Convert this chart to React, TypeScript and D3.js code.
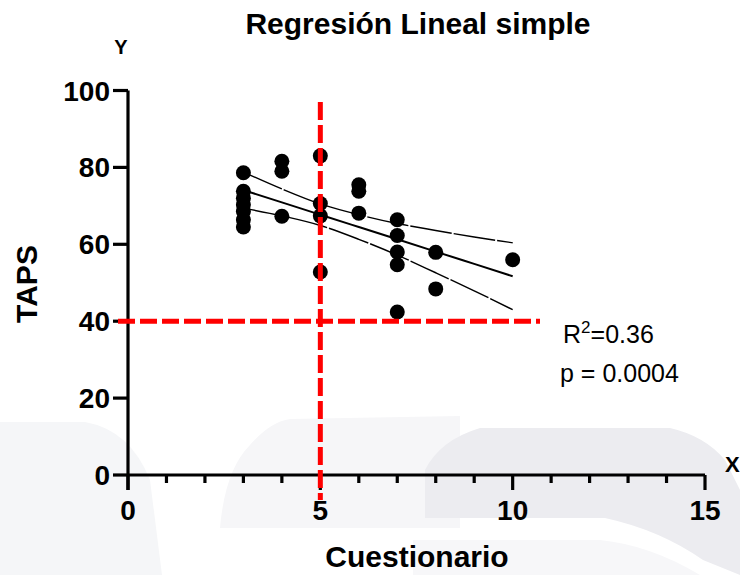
import React from "react";
import { scaleLinear, line, curveMonotoneX, range } from "d3";

// puntos observados (Cuestionario, TAPS)
const cuestionario = [3, 3, 3, 3, 3, 3, 3, 4, 4, 4, 5, 5, 5, 5, 6, 6, 6, 7, 7, 7, 7, 7, 8, 8, 10];
const taps = [78.6, 73.8, 72, 70.3, 68.5, 66.4, 64.5, 81.6, 79, 67.3, 83, 70.6, 67.4, 52.8, 75.5, 73.8, 68.1, 66.4, 62.3, 58, 54.7, 42.4, 57.9, 48.4, 56];

// recta de regresion y banda de confianza
const fitX = [3, 4, 5, 6, 7, 8, 9, 10];
const fitY = [74.1, 70.9, 67.7, 64.5, 61.3, 58.1, 54.9, 51.7];
const upperY = [78.8, 74.4, 70.5, 67.7, 65.4, 63.6, 61.9, 60.4];
const lowerY = [69.4, 67.4, 64.9, 61.3, 57.2, 52.6, 47.9, 43.0];

const yTicks = [0, 20, 40, 60, 80, 100];
const xMajor = [0, 5, 10, 15];
const corteX = 5;
const corteY = 40;

const FONT = "'Liberation Sans', Arial, sans-serif";

export default function App() {
  const width = 740;
  const height = 575;

  const x = scaleLinear().domain([0, 15]).range([128, 705]);
  const y = scaleLinear().domain([0, 100]).range([475, 90.5]);

  const pts = cuestionario.map((c, i) => ({ c, t: taps[i] }));

  const mkLine = (vals: number[]) =>
    line<number>()
      .x((_, i) => x(fitX[i]))
      .y((d) => y(d))
      .curve(curveMonotoneX)(vals) || "";

  const y0 = y(0);
  const axisW = 3.2;

  return (
    <svg
      width={width}
      height={height}
      style={{ position: "absolute", left: 0, top: 0, background: "#fff" }}
    >
      {/* marca de agua de fondo */}
      <g>
        <path d="M0,422 L85,422 Q130,430 150,480 L162,575 L0,575 Z" fill="#f5f6f8" />
        <path d="M220,528 Q225,470 250,445 Q270,422 290,419 L460,416 L460,528 Z" fill="#f6f6f8" />
        <path d="M425,518 L425,470 Q440,440 480,428 L670,428 Q705,436 725,460 L740,490 L740,575 L703,560 Q660,530 605,518 Z" fill="#ececf0" />
        <path d="M413,540 L600,540 Q650,545 700,575 L413,575 Z" fill="#f7f7f9" />
      </g>

      {/* titulo */}
      <text x={418} y={34} textAnchor="middle" fontFamily={FONT} fontWeight="bold" fontSize={30}>
        Regresión Lineal simple
      </text>
      <text x={121} y={54} textAnchor="middle" fontFamily={FONT} fontWeight="bold" fontSize={20}>
        Y
      </text>
      <text x={725} y={472} fontFamily={FONT} fontWeight="bold" fontSize={22}>
        X
      </text>

      {/* eje Y */}
      <line x1={x(0)} x2={x(0)} y1={y(100)} y2={y0 + 15} stroke="#000" strokeWidth={axisW} />
      {yTicks.map((t) => (
        <g key={t}>
          <line x1={x(0) - 15} x2={x(0)} y1={y(t)} y2={y(t)} stroke="#000" strokeWidth={axisW} />
          <text
            x={110}
            y={y(t)}
            dy="0.36em"
            textAnchor="end"
            fontFamily={FONT}
            fontWeight="bold"
            fontSize={28}
          >
            {t}
          </text>
        </g>
      ))}

      {/* eje X */}
      <line x1={x(0)} x2={x(15)} y1={y0} y2={y0} stroke="#000" strokeWidth={axisW} />
      {range(1, 15).filter((v) => v % 5 !== 0).map((v) => (
        <line key={v} x1={x(v)} x2={x(v)} y1={y0} y2={y0 + 8} stroke="#000" strokeWidth={axisW} />
      ))}
      {xMajor.map((v) => (
        <g key={v}>
          <line x1={x(v)} x2={x(v)} y1={y0} y2={y0 + 15} stroke="#000" strokeWidth={axisW} />
          <text x={x(v)} y={520} textAnchor="middle" fontFamily={FONT} fontWeight="bold" fontSize={28}>
            {v}
          </text>
        </g>
      ))}

      {/* titulos de ejes */}
      <text
        transform="translate(37,284) rotate(-90)"
        textAnchor="middle"
        fontFamily={FONT}
        fontWeight="bold"
        fontSize={30}
      >
        TAPS
      </text>
      <text x={417} y={567} textAnchor="middle" fontFamily={FONT} fontWeight="bold" fontSize={30}>
        Cuestionario
      </text>

      {/* regresion y banda */}
      <path d={mkLine(upperY)} fill="none" stroke="#000" strokeWidth={1.4} strokeDasharray="42 2" />
      <path d={mkLine(lowerY)} fill="none" stroke="#000" strokeWidth={1.4} strokeDasharray="42 2" />
      <path d={mkLine(fitY)} fill="none" stroke="#000" strokeWidth={2} />

      {/* puntos */}
      {pts.map((p, i) => (
        <circle key={i} cx={x(p.c)} cy={y(p.t)} r={7.5} fill="#000" />
      ))}

      {/* lineas de corte */}
      <line
        x1={118}
        x2={540}
        y1={y(corteY)}
        y2={y(corteY)}
        stroke="#ff0000"
        strokeWidth={5}
        strokeDasharray="17 5"
      />
      <line
        x1={x(corteX)}
        x2={x(corteX)}
        y1={102}
        y2={500}
        stroke="#ff0000"
        strokeWidth={5}
        strokeDasharray="18 5"
      />

      {/* estadisticos */}
      <text x={563} y={343} fontFamily={FONT} fontSize={25}>
        R<tspan fontSize={17} dy={-10}>2</tspan>
        <tspan dy={10}>=0.36</tspan>
      </text>
      <text x={560} y={382} fontFamily={FONT} fontSize={25}>
        p = 0.0004
      </text>
    </svg>
  );
}
